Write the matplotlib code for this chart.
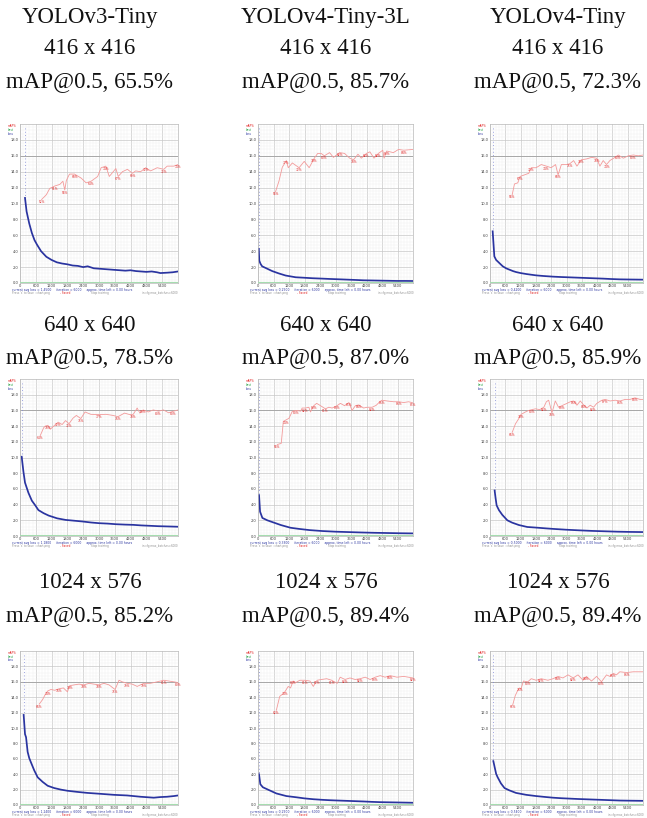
"""Darknet training charts, 3 models x 3 input sizes, with mAP titles."""

import matplotlib
matplotlib.use("Agg")
import matplotlib.pyplot as plt
from matplotlib.ticker import MultipleLocator

W, H = 647, 818

models = ["YOLOv3-Tiny", "YOLOv4-Tiny-3L", "YOLOv4-Tiny"]
sizes = ["416 x 416", "640 x 640", "1024 x 576"]
map50 = [[65.5, 85.7, 72.3],
         [78.5, 87.0, 85.9],
         [85.2, 89.4, 89.4]]

MAX_IT = 6000

# ---- YOLOv3-Tiny 416 ----
v3_416_loss_it = [250, 350, 450, 550, 650, 800, 1000, 1200, 1400, 1600, 1800, 2000, 2200, 2400, 2570,
                  2800, 3000, 3200, 3400, 3600, 3800, 4000, 4200, 4400, 4600, 4800, 5000, 5200, 5330,
                  5600, 5800, 6000]
v3_416_loss = [9.0, 7.5, 6.3, 5.4, 4.8, 4.0, 3.3, 2.9, 2.6, 2.45, 2.35, 2.2, 2.15, 2.0, 2.1,
               1.85, 1.8, 1.75, 1.7, 1.65, 1.6, 1.55, 1.6, 1.5, 1.45, 1.4, 1.45, 1.35, 1.25,
               1.3, 1.35, 1.45]
v3_416_spike = [190, 19.5, 10.7]
v3_416_map_it = [820, 1000, 1130, 1320, 1510, 1630, 1700, 1760, 1880, 2070, 2320, 2510, 2700, 2950,
                 3080, 3260, 3390, 3640, 3730, 3890, 4080, 4270, 4390, 4580, 4770, 4960, 5210, 5460,
                 5590, 5840, 6000]
v3_416_map = [52.5, 55.5, 59.5, 61, 62, 64, 58.5, 64.5, 68.5, 68.5, 66, 63, 64, 67,
              72.5, 73.5, 67, 72, 67, 70, 71.5, 69, 70.5, 70, 72.5, 70.5, 72.5, 71.5,
              73.5, 73.5, 74.5]

# ---- YOLOv4-Tiny-3L 416 ----
v4t3l_416_loss_it = [50, 100, 160, 290, 420, 550, 810, 1070, 1460, 1800, 2110, 2500, 2770, 3100, 3420,
                     3800, 4070, 4400, 4720, 5050, 5370, 5700, 6000]
v4t3l_416_loss = [2.8, 2.4, 2.1, 1.9, 1.7, 1.5, 1.2, 0.94, 0.72, 0.66, 0.6, 0.55, 0.51, 0.47, 0.43,
                  0.38, 0.34, 0.32, 0.3, 0.28, 0.26, 0.26, 0.25]
v4t3l_416_spike = [30, 19.5, 4.3]
v4t3l_416_map_it = [680, 810, 940, 1100, 1170, 1330, 1590, 1790, 1980, 2180, 2310, 2440, 2570, 2770,
                    2920, 3160, 3350, 3550, 3700, 3870, 4000, 4200, 4330, 4490, 4660, 4830, 4880,
                    4980, 5240, 5440, 5640, 6000]
v4t3l_416_map = [57.5, 64, 72.8, 77, 72.5, 75.5, 72.5, 76.5, 72.5, 78.5, 81.5, 81.5, 80, 82,
                 79, 82, 81.5, 78.5, 77.5, 81, 78.5, 81.5, 82.5, 78.5, 81.5, 83.5, 78.5,
                 83, 82, 84, 83.5, 84]

# ---- YOLOv4-Tiny 416 ----
v4t_416_loss_it = [170, 240, 370, 500, 630, 760, 900, 1020, 1200, 1420, 1600, 1810, 2100, 2470, 2800,
                   3130, 3450, 3780, 4100, 4440, 4750, 5090, 5500, 6000]
v4t_416_loss = [3.35, 2.9, 2.5, 2.1, 1.85, 1.68, 1.5, 1.38, 1.25, 1.13, 1.05, 0.96, 0.88, 0.8, 0.75,
                0.71, 0.67, 0.63, 0.59, 0.55, 0.5, 0.46, 0.44, 0.42]
v4t_416_spike = [105, 19.5, 6.5]
v4t_416_map_it = [870, 960, 1090, 1180, 1350, 1520, 1620, 1810, 2010, 2210, 2400, 2570, 2670, 2800,
                  2990, 3130, 3280, 3410, 3580, 3780, 3980, 4180, 4310, 4440, 4570, 4700, 4900,
                  5030, 5230, 5420, 5620, 5820, 6000]
v4t_416_map = [55.5, 62.3, 63, 67, 68, 69, 72.5, 72.5, 74.5, 73.5, 72.5, 74.5, 68, 74.5,
               74.5, 75, 77, 73.5, 77.5, 78, 79, 78.5, 73.5, 77, 74.5, 77, 79,
               80.5, 78.5, 80, 80.5, 80, 80.5]

# ---- YOLOv3-Tiny 640 ----
v3_640_loss_it = [130, 190, 320, 450, 580, 700, 900, 1090, 1410, 1730, 2050, 2370, 2700, 3010, 3330,
                  3650, 4000, 4300, 4600, 4940, 5250, 5580, 5800, 6000]
v3_640_loss = [8.2, 6.8, 5.5, 4.5, 3.9, 3.3, 2.9, 2.6, 2.25, 2.05, 1.95, 1.85, 1.72, 1.63, 1.58,
               1.5, 1.45, 1.42, 1.35, 1.3, 1.25, 1.22, 1.2, 1.18]
v3_640_spike = [64, 19.5, 10.1]
v3_640_map_it = [770, 900, 960, 1060, 1150, 1280, 1450, 1600, 1730, 1860, 2010, 2140, 2310, 2470,
                 2690, 3010, 3270, 3530, 3720, 3970, 4170, 4300, 4450, 4550, 4680, 4870, 5060,
                 5260, 5450, 5640, 5830, 6000]
v3_640_map = [64, 69, 70, 70.5, 68, 70, 72.5, 71, 73.5, 71.5, 75, 76.8, 74.8, 79,
              77.5, 77.3, 77.5, 76.8, 76, 78.3, 77.3, 77.5, 81.5, 78.3, 80.3, 79, 80.3,
              79.5, 80.3, 78.5, 79.5, 80.3]

# ---- YOLOv4-Tiny-3L 640 ----
v4t3l_640_loss_it = [80, 170, 360, 620, 880, 1260, 1600, 2000, 2500, 3000, 3500, 4000, 4500, 5000,
                     5500, 6000]
v4t3l_640_loss = [3.1, 2.3, 2.0, 1.7, 1.4, 1.05, 0.9, 0.75, 0.63, 0.55, 0.5, 0.45, 0.41, 0.38,
                  0.35, 0.33]
v4t3l_640_spike = [40, 19.5, 5.2]
v4t3l_640_map_it = [750, 900, 980, 1070, 1200, 1330, 1490, 1650, 1710, 1840, 1970, 2030, 2160, 2270,
                    2420, 2610, 2740, 2870, 3060, 3190, 3350, 3520, 3640, 3770, 3900, 4090, 4220,
                    4420, 4580, 4710, 4800, 5000, 5250, 5450, 5640, 5830, 6000]
v4t3l_640_map = [58.3, 59, 73, 73.8, 75, 79.5, 80, 79.5, 81.5, 81.5, 82, 79, 83, 84.5,
                 83, 81, 82, 81.5, 83, 84.5, 83, 85, 80, 83, 83.5, 81.5, 82,
                 82, 83.3, 85.5, 86.5, 86, 85.5, 85.5, 85, 85.5, 84.8]

# ---- YOLOv4-Tiny 640 ----
v4t_640_loss_it = [220, 260, 350, 480, 680, 870, 1130, 1460, 1850, 2200, 2500, 3000, 3500, 4000,
                   4500, 5000, 5500, 6000]
v4t_640_loss = [4.8, 3.9, 3.3, 2.7, 2.0, 1.7, 1.4, 1.15, 1.06, 0.97, 0.9, 0.8, 0.72, 0.65,
                0.6, 0.55, 0.52, 0.5]
v4t_640_spike = [182, 19.5, 5.8]
v4t_640_map_it = [870, 1000, 1130, 1220, 1390, 1520, 1650, 1780, 1950, 2110, 2210, 2300, 2430, 2560,
                  2690, 2820, 3020, 3150, 3280, 3410, 3540, 3670, 3800, 3930, 4060, 4190, 4390,
                  4520, 4710, 4910, 5100, 5300, 5490, 5690, 5880, 6000]
v4t_640_map = [66, 71.5, 74.8, 77.5, 79, 80, 80.5, 81, 80.5, 82, 85.5, 86.5, 78.5, 86,
               82, 83, 84.5, 85.5, 86, 83.3, 86, 83.5, 81.5, 83.3, 82, 84.5, 86.5,
               87, 86, 86.5, 86, 87, 87, 88, 87, 87]

# ---- YOLOv3-Tiny 1024x576 ----
v3_1024_loss_it = [190, 230, 290, 350, 420, 540, 670, 860, 1050, 1300, 1550, 1800, 2180, 2560, 3060,
                   3570, 4070, 4580, 5080, 5330, 5580, 5840, 6000]
v3_1024_loss = [9.2, 8.8, 6.9, 6.1, 5.5, 4.5, 3.6, 3.0, 2.5, 2.2, 2.0, 1.85, 1.7, 1.57, 1.45,
                1.32, 1.24, 1.07, 0.95, 1.03, 1.07, 1.16, 1.24]
v3_1024_spike = [139, 19.5, 11.7]
v3_1024_map_it = [730, 860, 950, 1050, 1170, 1320, 1490, 1650, 1800, 1890, 2060, 2240, 2430, 2620,
                  2810, 3000, 3190, 3380, 3610, 3760, 3880, 4070, 4260, 4450, 4700, 4950, 5210,
                  5460, 5650, 5840, 6000]
v3_1024_map = [65.5, 68.5, 71.5, 74, 75, 74.5, 75.5, 76, 73.5, 77.5, 78, 78.5, 78, 79,
               78.5, 78, 79, 78, 75, 81, 80, 79, 78.5, 77, 79, 79, 80,
               81, 80.5, 80, 79.5]

# ---- YOLOv4-Tiny-3L 1024x576 ----
v4t3l_1024_loss_it = [90, 190, 450, 710, 1100, 1490, 1800, 2140, 2500, 2790, 3100, 3430, 3750, 4080,
                      4400, 4730, 5050, 5380, 5700, 6000]
v4t3l_1024_loss = [2.7, 2.3, 1.9, 1.5, 1.16, 1.0, 0.86, 0.75, 0.67, 0.62, 0.58, 0.54, 0.5, 0.46,
                   0.41, 0.37, 0.35, 0.33, 0.31, 0.29]
v4t3l_1024_spike = [39, 19.5, 4.0]
v4t3l_1024_map_it = [710, 840, 950, 1040, 1170, 1260, 1360, 1460, 1620, 1810, 2010, 2140, 2290, 2460,
                     2660, 2850, 3070, 3180, 3370, 3560, 3760, 3950, 4150, 4340, 4540, 4730, 4920,
                     5120, 5380, 5640, 6000]
v4t3l_1024_map = [61.5, 70.5, 72, 73.5, 77, 76, 80.5, 79.5, 81, 81, 80.5, 77, 81, 81.5,
                  82, 81, 79, 83, 81.5, 82.5, 81.5, 82, 83, 81.5, 83, 84, 83,
                  84, 83, 83.5, 82.5]

# ---- YOLOv4-Tiny 1024x576 ----
v4t_1024_loss_it = [170, 240, 300, 430, 570, 760, 1020, 1420, 1810, 2140, 2470, 2800, 3130, 3450,
                    3780, 4100, 4440, 4760, 5090, 5500, 6000]
v4t_1024_loss = [5.1, 4.05, 3.6, 2.8, 2.2, 1.9, 1.57, 1.32, 1.16, 1.05, 0.95, 0.88, 0.83, 0.78,
                 0.74, 0.7, 0.66, 0.62, 0.58, 0.56, 0.54]
v4t_1024_spike = [131, 19.5, 5.7]
v4t_1024_map_it = [890, 990, 1090, 1160, 1220, 1310, 1480, 1620, 1810, 2010, 2270, 2470, 2670, 2860,
                   3060, 3260, 3450, 3650, 3780, 3980, 4180, 4370, 4570, 4700, 4830, 4960, 5090,
                   5360, 5620, 6000]
v4t_1024_map = [65, 71, 74.5, 76, 75.5, 80.5, 80, 82, 81, 82, 81, 82, 83.5, 82.5,
                84.5, 82.5, 84.5, 81, 83.5, 80.5, 83.5, 80, 84.5, 83.5, 85.5, 84.5, 86.5,
                86, 86.5, 86.5]

panels = [
    [(v3_416_loss_it, v3_416_loss, v3_416_spike, v3_416_map_it, v3_416_map),
     (v4t3l_416_loss_it, v4t3l_416_loss, v4t3l_416_spike, v4t3l_416_map_it, v4t3l_416_map),
     (v4t_416_loss_it, v4t_416_loss, v4t_416_spike, v4t_416_map_it, v4t_416_map)],
    [(v3_640_loss_it, v3_640_loss, v3_640_spike, v3_640_map_it, v3_640_map),
     (v4t3l_640_loss_it, v4t3l_640_loss, v4t3l_640_spike, v4t3l_640_map_it, v4t3l_640_map),
     (v4t_640_loss_it, v4t_640_loss, v4t_640_spike, v4t_640_map_it, v4t_640_map)],
    [(v3_1024_loss_it, v3_1024_loss, v3_1024_spike, v3_1024_map_it, v3_1024_map),
     (v4t3l_1024_loss_it, v4t3l_1024_loss, v4t3l_1024_spike, v4t3l_1024_map_it, v4t3l_1024_map),
     (v4t_1024_loss_it, v4t_1024_loss, v4t_1024_spike, v4t_1024_map_it, v4t_1024_map)],
]

# panel boxes in pixels
col_left = [20, 258, 490]
col_right = [178, 413, 643]
row_top = [124, 379, 651]
row_bottom = [283, 536, 805]
col_center = [90, 326, 558]
title_y = [[17, 49, 82], [325, 358], [583, 616]]

LOSS_C = "#2a34a0"
MAP_LINE = "#f39a9a"
MAP_TXT = "#e02020"


def draw_chart(ax, loss_it, loss, spike, map_it, map_v):
    ax.set_xlim(0, MAX_IT)
    ax.set_ylim(0, 20)
    ax.xaxis.set_minor_locator(MultipleLocator(120))
    ax.yaxis.set_minor_locator(MultipleLocator(0.4))
    ax.grid(which="minor", color="#ededed", lw=0.3)
    ax.grid(which="major", color="#c8c8c8", lw=0.5)
    ax.set_axisbelow(True)
    ax.axhline(16, color="#a8a8a8", lw=0.7, zorder=1)
    ax.axhline(0.12, color="#a6dcb0", lw=0.8, zorder=3)
    for s in ax.spines.values():
        s.set_color("#b8b8b8")
        s.set_linewidth(0.5)
    ax.tick_params(which="both", length=0, pad=1, labelsize=2.6, colors="#404040")
    ax.set_xticks(range(0, MAX_IT + 1, 600))
    ax.set_xticklabels([str(v) if v < MAX_IT else "" for v in range(0, MAX_IT + 1, 600)])
    ax.set_yticks(range(0, 20, 2))
    ax.set_yticklabels([f"{v:.1f}" for v in range(0, 20, 2)])

    # sparse points of the first iterations, then the loss curve
    ax.plot([spike[0], spike[0]], [spike[1], spike[2]], ls=(0, (1, 3)), color="#7f88d8", lw=0.6)
    ax.plot([spike[0]] + loss_it, [spike[2]] + loss, color=LOSS_C, lw=1.25, solid_joinstyle="round")

    # mAP on its own 0-100 % scale
    ax2 = ax.twinx()
    ax2.set_ylim(0, 100)
    ax2.set_yticks([])
    for s in ax2.spines.values():
        s.set_visible(False)
    ax2.plot(map_it, map_v, color=MAP_LINE, lw=0.6)
    for i in range(0, len(map_v), 3):
        ax2.text(map_it[i], map_v[i] - 1.6, f"{map_v[i]:.0f}%", fontsize=2.1, color=MAP_TXT,
                 ha="center", va="center")

    # legend and status lines, as darknet writes them
    for k, (s, col) in enumerate([("mAP%", MAP_TXT), ("best", "#20a040"), ("Loss", LOSS_C)]):
        ax.text(-0.08, 1.0 - 0.024 * k, s, transform=ax.transAxes, fontsize=2.0, color=col, va="top")
    ax.text(-0.05, -0.032,
            f"current avg loss = {loss[-1]:.4f}     iteration = {MAX_IT}     approx. time left = 0.00 hours",
            transform=ax.transAxes, fontsize=2.2, color=LOSS_C, va="top")
    ax.text(-0.05, -0.052, "Press 's' to save : chart.png", transform=ax.transAxes,
            fontsize=2.0, color="#909090", va="top")
    ax.text(0.25, -0.052, "- Saved", transform=ax.transAxes, fontsize=2.0, color=MAP_TXT, va="top")
    ax.text(0.45, -0.052, "Stop training", transform=ax.transAxes, fontsize=2.0, color="#909090", va="top")
    ax.text(1.0, -0.052, f"in cfg max_batches={MAX_IT}", transform=ax.transAxes,
            fontsize=2.0, color="#909090", va="top", ha="right")


fig = plt.figure(figsize=(W / 100, H / 100), dpi=100)
fig.patch.set_facecolor("white")

for r in range(3):
    for c in range(3):
        l, rr, t, b = col_left[c], col_right[c], row_top[r], row_bottom[r]
        ax = fig.add_axes([l / W, 1 - b / H, (rr - l) / W, (b - t) / H])
        draw_chart(ax, *panels[r][c])

        lines = [sizes[r], f"mAP@0.5, {map50[r][c]}%"]
        if r == 0:
            lines = [models[c]] + lines
        for s, y in zip(lines, title_y[r]):
            fig.text(col_center[c] / W, 1 - y / H, s, ha="center", va="center",
                     fontsize=16.5, family="Liberation Serif", color="#111111")

fig.savefig("out.png", dpi=100, facecolor="white")
